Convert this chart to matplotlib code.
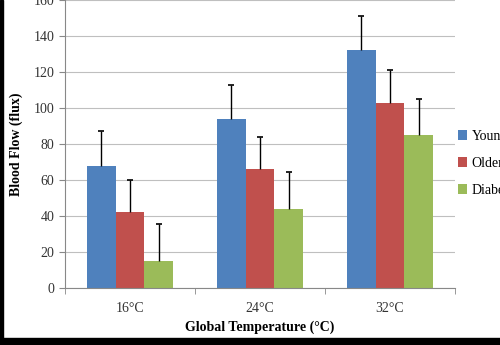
import numpy as np
import matplotlib.pyplot as plt
from matplotlib.patches import Rectangle

# data
temps = ["16°C", "24°C", "32°C"]
groups = ["Young", "Older", "Diabetic"]
young = [68, 94, 132]
older = [42, 66, 103]
diabetic = [15, 44, 85]
young_err = [19, 19, 19]
older_err = [18, 18, 18]
diabetic_err = [20.5, 20.5, 20]

colors = ["#4F81BD", "#C0504D", "#9BBB59"]
FONT = "Liberation Serif"

plt.rcParams["font.family"] = FONT

fig = plt.figure(figsize=(5, 3.45), dpi=100)
ax = fig.add_axes([0.13, 0.165, 0.78, 0.835])

x = np.arange(len(temps))
width = 0.223
series = [young, older, diabetic]
errs = [young_err, older_err, diabetic_err]
for i, (vals, err) in enumerate(zip(series, errs)):
    pos = x + (i - 1) * width
    vals = np.array(vals)
    tops = vals + np.array(err)
    ax.bar(pos, vals, width, color=colors[i], label=groups[i], zorder=2)
    # upper error bars only, capped at the top
    ax.vlines(pos, vals, tops, color="black", linewidth=1, zorder=3)
    ax.scatter(pos, tops, marker="_", s=25, color="black", linewidths=1.2, zorder=3)

ax.set_xlim(-0.5, 2.5)
ax.set_ylim(0, 160)
ax.set_yticks(np.arange(0, 161, 20))
ax.grid(axis="y", color="#BFBFBF", linewidth=0.8, zorder=0)
ax.set_xticks(x)
ax.set_xticklabels(temps)
ax.set_xticks([-0.5, 0.5, 1.5, 2.5], minor=True)
ax.tick_params(axis="x", which="major", length=0, pad=10, labelsize=10, labelcolor="#333333")
ax.tick_params(axis="x", which="minor", length=4, color="#888888")
ax.tick_params(axis="y", length=4, color="#888888", labelsize=10, labelcolor="#333333")
for lbl in ax.get_xticklabels() + ax.get_yticklabels():
    lbl.set_fontfamily(FONT)
for s in ["top", "right"]:
    ax.spines[s].set_visible(False)
ax.spines["left"].set_color("#888888")
ax.spines["bottom"].set_color("#888888")

ax.set_ylabel("Blood Flow (flux)", fontweight="bold", fontsize=10, labelpad=8, family=FONT)
ax.set_xlabel("Global Temperature (°C)", fontweight="bold", fontsize=10, labelpad=4, family=FONT)

fig.legend(loc="upper left", bbox_to_anchor=(0.89, 0.66), frameon=False,
           prop={"family": FONT, "size": 10}, handlelength=0.7, handleheight=0.7,
           handletextpad=0.3, labelspacing=1.0)

# dark borders of the screenshot
fig.patches.append(Rectangle((0, 0), 0.006, 1, transform=fig.transFigure,
                             color="black", zorder=10))
fig.patches.append(Rectangle((0, 0), 1, 0.02, transform=fig.transFigure,
                             color="black", zorder=10))

fig.savefig("out.png", dpi=100)
